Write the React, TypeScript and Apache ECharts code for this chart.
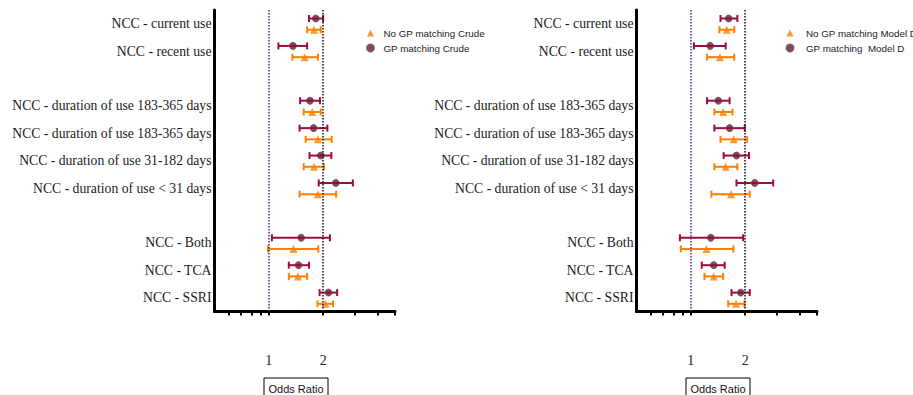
import React, { useEffect, useRef } from 'react';
import * as echarts from 'echarts';

// Row labels (blank rows separate groups)
const rowLabels = [
  'NCC - current use',
  'NCC - recent use',
  'NCC - duration of use 183-365 days',
  'NCC - duration of use 183-365 days',
  'NCC - duration of use 31-182 days',
  'NCC - duration of use < 31 days',
  'NCC - Both',
  'NCC - TCA',
  'NCC - SSRI',
];
const rowSlots = [0, 1, 3, 4, 5, 6, 8, 9, 10];

const xTickValues = [0.6, 0.7, 0.8, 0.9, 1, 2, 3, 4, 5];
const xLabelValues = [1, 2];
const refLines = [1, 2];

// Left panel: Crude
const gpCrudeOR = [1.82, 1.36, 1.69, 1.77, 1.94, 2.35, 1.51, 1.46, 2.14];
const gpCrudeLow = [1.67, 1.13, 1.49, 1.48, 1.68, 1.89, 1.04, 1.29, 1.91];
const gpCrudeHigh = [2.0, 1.63, 1.92, 2.11, 2.22, 2.92, 2.18, 1.67, 2.39];
const noGpCrudeOR = [1.78, 1.58, 1.74, 1.87, 1.78, 1.87, 1.37, 1.45, 2.06];
const noGpCrudeLow = [1.63, 1.35, 1.56, 1.6, 1.56, 1.48, 0.99, 1.29, 1.86];
const noGpCrudeHigh = [1.94, 1.87, 1.94, 2.23, 2.02, 2.36, 1.88, 1.63, 2.27];

// Right panel: Model D
const gpModelDOR = [1.62, 1.28, 1.42, 1.64, 1.79, 2.26, 1.29, 1.34, 1.89];
const gpModelDLow = [1.46, 1.04, 1.23, 1.35, 1.52, 1.79, 0.87, 1.15, 1.68];
const gpModelDHigh = [1.81, 1.56, 1.64, 1.99, 2.1, 2.86, 1.95, 1.54, 2.12];
const noGpModelDOR = [1.58, 1.45, 1.51, 1.73, 1.56, 1.67, 1.22, 1.34, 1.78];
const noGpModelDLow = [1.44, 1.23, 1.35, 1.46, 1.35, 1.3, 0.88, 1.19, 1.61];
const noGpModelDHigh = [1.74, 1.74, 1.7, 2.05, 1.81, 2.12, 1.72, 1.51, 1.98];

const GP_OFFSET = -0.19;
const NOGP_OFFSET = 0.22;

const MAROON = '#9e0c3e';
const MAROON_FILL = '#7a1236';
const ORANGE = '#ff8000';

function errorBarRender(color: string) {
  return (params: any, api: any) => {
    const y = api.value(2);
    const p1 = api.coord([api.value(0), y]);
    const p2 = api.coord([api.value(1), y]);
    const cap = 3.5;
    const style = { stroke: color, lineWidth: 2 };
    return {
      type: 'group',
      children: [
        { type: 'line', shape: { x1: p1[0], y1: p1[1], x2: p2[0], y2: p2[1] }, style },
        { type: 'line', shape: { x1: p1[0], y1: p1[1] - cap, x2: p1[0], y2: p1[1] + cap }, style },
        { type: 'line', shape: { x1: p2[0], y1: p2[1] - cap, x2: p2[0], y2: p2[1] + cap }, style },
      ],
    };
  };
}

function panelSeries(
  idx: number,
  gpName: string,
  noGpName: string,
  gpOR: number[], gpLow: number[], gpHigh: number[],
  ngOR: number[], ngLow: number[], ngHigh: number[]
) {
  const gpY = rowSlots.map((s) => s + GP_OFFSET);
  const ngY = rowSlots.map((s) => s + NOGP_OFFSET);
  return [
    {
      type: 'custom',
      name: gpName + ' CI',
      xAxisIndex: idx,
      yAxisIndex: idx,
      z: 2,
      renderItem: errorBarRender(MAROON),
      data: gpY.map((y, i) => [gpLow[i], gpHigh[i], y]),
      encode: { x: [0, 1], y: 2 },
    },
    {
      type: 'custom',
      name: noGpName + ' CI',
      xAxisIndex: idx,
      yAxisIndex: idx,
      z: 2,
      renderItem: errorBarRender(ORANGE),
      data: ngY.map((y, i) => [ngLow[i], ngHigh[i], y]),
      encode: { x: [0, 1], y: 2 },
    },
    {
      type: 'scatter',
      name: noGpName,
      xAxisIndex: idx,
      yAxisIndex: idx,
      z: 3,
      symbol: 'triangle',
      symbolSize: 8,
      itemStyle: { color: ORANGE },
      data: ngY.map((y, i) => [ngOR[i], y]),
      markLine: {
        silent: true,
        symbol: ['none', 'none'],
        label: { show: false },
        lineStyle: { type: 'dotted', width: 1.5 },
        data: refLines.map((v, i) => ({
          xAxis: v,
          lineStyle: { color: i === 0 ? '#3a3a78' : '#111111', type: 'dotted', width: 1.5 },
        })),
      },
    },
    {
      type: 'scatter',
      name: gpName,
      xAxisIndex: idx,
      yAxisIndex: idx,
      z: 3,
      symbol: 'circle',
      symbolSize: 7,
      itemStyle: { color: MAROON_FILL, borderColor: '#555555', borderWidth: 1 },
      data: gpY.map((y, i) => [gpOR[i], y]),
    },
  ];
}

function xAxisCfg(idx: number) {
  return {
    type: 'log',
    gridIndex: idx,
    min: 0.5,
    max: 5,
    axisLine: { show: true, onZero: false, lineStyle: { color: '#000', width: 3 } },
    axisTick: { show: true, customValues: xTickValues, length: 4, lineStyle: { color: '#000', width: 2 } },
    axisLabel: {
      show: true,
      customValues: xLabelValues,
      margin: 42,
      fontFamily: 'Liberation Serif',
      fontSize: 14,
      color: '#222',
      formatter: (v: number) => String(Math.round(v)),
    },
    splitLine: { show: false },
    minorTick: { show: false },
  };
}

function yAxisCfg(idx: number) {
  return {
    type: 'value',
    gridIndex: idx,
    inverse: true,
    min: -0.5,
    max: 10.5,
    axisLine: { show: true, onZero: false, lineStyle: { color: '#000', width: 3 } },
    axisTick: { show: false },
    splitLine: { show: false },
    axisLabel: {
      show: true,
      customValues: rowSlots,
      margin: 3,
      fontFamily: 'Liberation Serif',
      fontSize: 13.7,
      color: '#1a1a1a',
      formatter: (v: number) => {
        const k = rowSlots.indexOf(Math.round(v));
        return k >= 0 ? rowLabels[k] : '';
      },
    },
  };
}

function legendCfg(left: number, noGpName: string, gpName: string, pad: number) {
  return {
    left,
    top: 28,
    padding: 0,
    orient: 'vertical',
    itemWidth: 7,
    itemHeight: 7,
    itemGap: 5,
    selectedMode: false,
    textStyle: { fontFamily: 'Liberation Sans', fontSize: 9.8, color: '#222', padding: [0, 0, 0, pad] },
    data: [
      { name: noGpName, icon: 'triangle' },
      { name: gpName, icon: 'circle' },
    ],
  };
}

function oddsBox(x: number) {
  return [
    {
      type: 'rect',
      shape: { x, y: 378, width: 64, height: 22 },
      style: { fill: 'none', stroke: '#000', lineWidth: 1 },
    },
    {
      type: 'text',
      x: x + 32,
      y: 389,
      style: {
        text: 'Odds Ratio',
        align: 'center',
        verticalAlign: 'middle',
        fontFamily: 'Liberation Sans',
        fontSize: 11,
        fill: '#111',
      },
    },
  ];
}

export default function App() {
  const ref = useRef<HTMLDivElement>(null);
  useEffect(() => {
    if (!ref.current) return;
    const chart = echarts.init(ref.current, undefined, { renderer: 'svg' });
    chart.setOption({
      animation: false,
      backgroundColor: '#ffffff',
      grid: [
        { left: 214.5, top: 10, width: 180.5, height: 301.5 },
        { left: 636.5, top: 10, width: 180.5, height: 301.5 },
      ],
      xAxis: [xAxisCfg(0), xAxisCfg(1)],
      yAxis: [yAxisCfg(0), yAxisCfg(1)],
      legend: [
        legendCfg(366, 'No GP matching Crude', 'GP matching Crude', 4.5),
        legendCfg(785.5, 'No GP matching Model D', 'GP matching  Model D', 7.5),
      ],
      graphic: [...oddsBox(264), ...oddsBox(686)],
      series: [
        ...panelSeries(0, 'GP matching Crude', 'No GP matching Crude',
          gpCrudeOR, gpCrudeLow, gpCrudeHigh, noGpCrudeOR, noGpCrudeLow, noGpCrudeHigh),
        ...panelSeries(1, 'GP matching  Model D', 'No GP matching Model D',
          gpModelDOR, gpModelDLow, gpModelDHigh, noGpModelDOR, noGpModelDLow, noGpModelDHigh),
      ],
    });
    return () => chart.dispose();
  }, []);
  return (
    <div
      ref={ref}
      style={{ position: 'fixed', left: 0, top: 0, width: 913, height: 395 }}
    />
  );
}
